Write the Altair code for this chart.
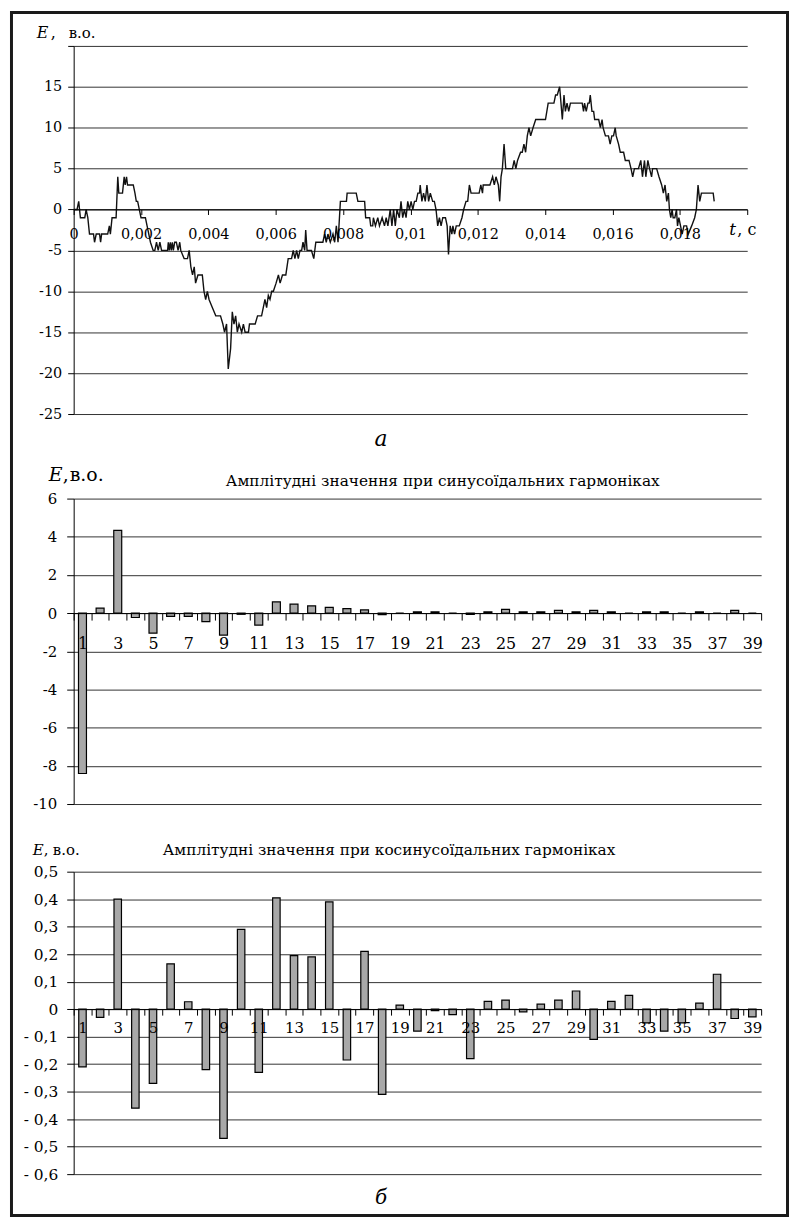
import altair as alt
import pandas as pd

# ---------------- data: panel a (time signal) ----------------
T_A = [0, 0.0001, 0.00015, 0.0002, 0.00033, 0.00037, 0.00042, 0.00047, 0.00059, 0.00062,
       0.00067, 0.00077, 0.0008, 0.00083, 0.00101, 0.00106, 0.00109, 0.00114, 0.00126, 0.00131,
       0.00134, 0.00145, 0.0015, 0.00153, 0.00157, 0.0016, 0.00177, 0.00182, 0.00186, 0.0019,
       0.00195, 0.002, 0.00213, 0.00218, 0.00228, 0.00236, 0.00241, 0.00246, 0.00251, 0.00256,
       0.00261, 0.00279, 0.00281, 0.00284, 0.00287, 0.0029, 0.00293, 0.00296, 0.003, 0.00305,
       0.0031, 0.00315, 0.00318, 0.00328, 0.00338, 0.00343, 0.00348, 0.00353, 0.00358, 0.00362,
       0.00369, 0.00382, 0.00387, 0.00392, 0.00397, 0.00402, 0.00412, 0.00422, 0.00436, 0.00443,
       0.00448, 0.00454, 0.00459, 0.00466, 0.00471, 0.00476, 0.00481, 0.00486, 0.00491, 0.00499]
E_A = [0, 0, 1, -1, -1, 0, -1, -3, -3, -4,
       -3, -3, -4, -3, -3, -2, -3, -1, -1, 4,
       2, 2, 4, 3, 4, 3, 3, 2, 1, 1,
       0, -1, -1, -2, -4, -5, -5, -4, -5, -4,
       -5, -5, -4, -5, -4, -5, -4, -5, -4, -4,
       -5, -4, -5, -6, -6, -5, -7, -8, -7, -9,
       -8, -8, -10, -11, -10, -11, -12, -13, -13, -14,
       -15, -14, -19.5, -17, -12.5, -14, -13, -15, -14, -15]

T_B = [0.00504, 0.00509, 0.00519, 0.00522, 0.00539, 0.00546, 0.00558, 0.00563, 0.00568, 0.00573,
       0.00578, 0.00583, 0.00588, 0.00593, 0.00601, 0.00608, 0.00613, 0.0062, 0.0063, 0.00637,
       0.00647, 0.00652, 0.00657, 0.00662, 0.00667, 0.00672, 0.00677, 0.00681, 0.00686, 0.00689,
       0.00693, 0.00699, 0.00706, 0.00713, 0.00719, 0.0074, 0.00745, 0.0075, 0.00755, 0.00762,
       0.0077, 0.00775, 0.0078, 0.00785, 0.00792, 0.0081, 0.00812, 0.00839, 0.00844, 0.00864,
       0.00867, 0.00879, 0.00882, 0.00888, 0.0089, 0.00896, 0.00903, 0.00908, 0.00916, 0.00923,
       0.00928, 0.00933, 0.0094, 0.00945, 0.0095, 0.00955, 0.0096, 0.00967, 0.00972, 0.00977,
       0.00982, 0.00987, 0.00992, 0.00997]
E_B = [-14, -15, -15, -14, -14, -13, -13, -12, -11, -12,
       -10.5, -11, -10, -10, -9, -8, -9, -8, -8, -6,
       -6, -5, -6, -5, -6, -5, -5, -4, -5, -2.5,
       -5, -5, -5, -6, -4, -4, -3, -4, -3, -4,
       -3, -4, -2, -4, 1, 1, 2, 2, 1, 1,
       -1, -1, -2, -2, -1, -2, -1, -2, -1, -2,
       -1, -2, 0, -2, 0, -2, 0, -1, 1, -1,
       0, -1, 1, 0]

T_C = [0.01002, 0.01007, 0.01012, 0.01017, 0.01022, 0.01027, 0.01029, 0.01034, 0.01039, 0.01044,
       0.01049, 0.01054, 0.01059, 0.01066, 0.01071, 0.01076, 0.01081, 0.01086, 0.01091, 0.01096,
       0.01104, 0.01109, 0.01113, 0.01118, 0.01123, 0.01126, 0.01131, 0.01136, 0.01145, 0.01153,
       0.01158, 0.01165, 0.0117, 0.01175, 0.0118, 0.01204, 0.01209, 0.01214, 0.01216, 0.01236,
       0.01244, 0.01249, 0.01254, 0.01261, 0.01265, 0.01269, 0.01273, 0.01278, 0.01283, 0.01303,
       0.01308, 0.01313, 0.01318, 0.01327, 0.01332, 0.01337, 0.01342, 0.01347, 0.01352, 0.01357,
       0.01364, 0.01372, 0.01401, 0.01409, 0.01426, 0.01431, 0.01436, 0.01443, 0.01451, 0.01456,
       0.0146, 0.01465, 0.0147, 0.01475, 0.01495]
E_C = [1, 0, 1, 1, 2, 2, 3, 1, 2, 1,
       3, 1, 2, 1, 1, 0, -2, -1, -2, -1,
       -1, -2, -5.5, -2, -3, -2, -3, -2, -2, -1,
       0, 1, 1, 3, 2, 2, 3, 2, 3, 3,
       4, 3, 4, 3, 1, 4, 5, 8, 5, 5,
       6, 5, 6, 7, 7, 8, 7, 9, 10, 9,
       10, 11, 11, 13, 13, 14, 14, 15, 11, 14,
       12, 13, 12, 13, 13]

T_D = [0.015, 0.0151, 0.01514, 0.01517, 0.01522, 0.01527, 0.01531, 0.01534, 0.01539, 0.01544,
       0.01547, 0.01554, 0.01559, 0.01564, 0.01569, 0.01572, 0.01579, 0.01583, 0.01588, 0.01593,
       0.01598, 0.01603, 0.01608, 0.01611, 0.01618, 0.01623, 0.01633, 0.01638, 0.01649, 0.01655,
       0.0166, 0.01665, 0.01677, 0.01684, 0.01689, 0.01695, 0.01699, 0.01705, 0.0171, 0.01716,
       0.01719, 0.01731, 0.01738, 0.01746, 0.01751, 0.01756, 0.01761, 0.01766, 0.01769, 0.01773,
       0.01777, 0.0178, 0.01785, 0.0179, 0.01793, 0.01797, 0.01802, 0.01807, 0.01812, 0.0182,
       0.01825, 0.01835, 0.01844, 0.01849, 0.01854, 0.01859, 0.01864, 0.01874, 0.01899, 0.01902]
E_D = [13, 13, 12, 13, 12, 13, 13, 14, 12, 12,
       11, 11, 11, 10, 11, 10, 9, 9, 9, 8,
       9, 9, 10, 9, 8, 7, 7, 6, 6, 5,
       4, 5, 5, 6, 4, 6, 4, 6, 5, 4,
       5, 5, 4, 3, 2, 3, 1, 2, 0, -1,
       0, -1, -1, 0, -2, -1, -2, -3, -2, -2,
       -3, -2, -1, 0, 3, 1, 2, 2, 2, 1]

T_TICKS = [0, 0.002, 0.004, 0.006, 0.008, 0.01, 0.012, 0.014, 0.016, 0.018, 0.02]
E_TICKS = [-25, -20, -15, -10, -5, 0, 5, 10, 15, 20]

# ---------------- data: panel b (harmonics) ----------------
HARM = list(range(1, 40))
SIN_AMP = [-8.4, 0.26, 4.33, -0.23, -1.05, -0.17, -0.17, -0.45, -1.15, -0.06,
           -0.63, 0.59, 0.47, 0.38, 0.3, 0.24, 0.17, -0.08, 0, 0.07,
           0.07, 0, -0.07, 0.07, 0.2, 0.07, 0.07, 0.14, 0.07, 0.14,
           0.07, 0, 0.07, 0.07, 0, 0.07, 0, 0.14, 0]
COS_AMP = [-0.21, -0.03, 0.4, -0.36, -0.27, 0.165, 0.027, -0.22, -0.47, 0.29,
           -0.23, 0.405, 0.195, 0.19, 0.39, -0.185, 0.21, -0.31, 0.015, -0.08,
           -0.005, -0.02, -0.18, 0.028, 0.033, -0.01, 0.018, 0.033, 0.066, -0.11,
           0.028, 0.05, -0.05, -0.08, -0.05, 0.022, 0.127, -0.034, -0.028]
SIN_TICKS = [-10, -8, -6, -4, -2, 0, 2, 4, 6]
COS_TICKS = [-0.6, -0.5, -0.4, -0.3, -0.2, -0.1, 0, 0.1, 0.2, 0.3, 0.4, 0.5]

SIN_TITLE = "Амплітудні значення при синусоїдальних гармоніках"
COS_TITLE = "Амплітудні значення при косинусоїдальних гармоніках"

# ---------------- style ----------------
FONT = "DejaVu Serif"
GRID = "#333333"
BAR_FILL = "#a8a8a8"

W_TOP, H_TOP, H_TOP_BOX = 677, 370, 387
W_BAR = 691
H_SIN, H_COS = 307, 304

line_df = pd.DataFrame({"t": T_A + T_B + T_C + T_D, "E": E_A + E_B + E_C + E_D})
bars_df = pd.DataFrame({"n": HARM, "s": SIN_AMP, "c": COS_AMP})
one = pd.DataFrame({"k": [0]})


def label(text, x, y, size, italic=False, align="left"):
    return alt.Chart(one).mark_text(
        text=text, font=FONT, fontSize=size,
        fontStyle="italic" if italic else "normal",
        align=align, baseline="alphabetic", color="black",
    ).encode(x=alt.value(x), y=alt.value(y))


# ---------------- panel a ----------------
zero_top = H_TOP * 20 / 45
line = alt.Chart(line_df).mark_line(color="#111111", strokeWidth=1.4).encode(
    x=alt.X("t:Q", scale=alt.Scale(domain=[0, 0.02], nice=False, zero=False),
            axis=alt.Axis(values=T_TICKS, title=None, grid=False, zindex=1,
                          labelExpr="datum.value > 0.0199 ? '' : replace(format(datum.value, '~g'), '.', ',')",
                          offset=-(H_TOP_BOX - zero_top), tickSize=5, labelPadding=13,
                          labelFontSize=14.5, labelFlush=False, labelOverlap=False)),
    y=alt.Y("E:Q", scale=alt.Scale(domain=[-25, 20], nice=False, zero=False, range=[H_TOP, 0]),
            axis=alt.Axis(values=E_TICKS, title=None, grid=True,
                          labelExpr="datum.value > 19 ? '' : toString(datum.value)",
                          tickSize=6, labelPadding=6, labelFontSize=14.5, labelOverlap=False)),
)
border = alt.Chart(one).mark_rect(fill="transparent", stroke="#1a1a1a", strokeWidth=3).encode(
    x=alt.value(-62.5), x2=alt.value(717.5), y=alt.value(-33.5), y2=alt.value(1175.5)
)
top = alt.layer(
    line, border,
    label("E", -37, -8, 16, italic=True),
    label(",", -23, -8, 16),
    label("в.о.", -5, -8, 15),
    label("t", 659, 190, 17, italic=True),
    label(", с", 667, 190, 16),
    label("a", 309, 402, 22, italic=True, align="center"),
).properties(width=W_TOP, height=H_TOP_BOX)

# ---------------- panel b: sine ----------------
sin_bars = alt.Chart(bars_df).mark_bar(size=8, fill=BAR_FILL, stroke="black", strokeWidth=1.2).encode(
    x=alt.X("n:O", scale=alt.Scale(paddingInner=0, paddingOuter=0),
            axis=alt.Axis(title=None, labelAngle=0, tickBand="extent", grid=False, zindex=1,
                          labelExpr="datum.value % 2 == 1 ? datum.label : ''",
                          offset=-(H_SIN - H_SIN * 6 / 16), tickSize=7, labelPadding=16,
                          labelFontSize=16, labelOverlap=False)),
    y=alt.Y("s:Q", scale=alt.Scale(domain=[-10, 6], nice=False),
            axis=alt.Axis(values=SIN_TICKS, title=None, grid=True, labelExpr="toString(datum.value)",
                          tickSize=7, labelPadding=10, labelFontSize=15, labelOverlap=False)),
)
sine = alt.layer(
    sin_bars,
    label("E", -25, -18, 19, italic=True),
    label(",", -11, -18, 19),
    label("в.о.", -4, -18, 19),
    label(SIN_TITLE, 371, -13, 15.4, align="center"),
).properties(width=W_BAR, height=H_SIN)

# ---------------- panel b: cosine ----------------
cos_bars = alt.Chart(bars_df).mark_bar(size=7.5, fill=BAR_FILL, stroke="black", strokeWidth=1.2).encode(
    x=alt.X("n:O", scale=alt.Scale(paddingInner=0, paddingOuter=0),
            axis=alt.Axis(title=None, labelAngle=0, tickBand="extent", grid=False, zindex=1,
                          labelExpr="datum.value % 2 == 1 ? datum.label : ''",
                          offset=-(H_COS - H_COS * 0.5 / 1.1), tickSize=6, labelPadding=5,
                          labelFontSize=15, labelOverlap=False)),
    y=alt.Y("c:Q", scale=alt.Scale(domain=[-0.6, 0.5], nice=False),
            axis=alt.Axis(values=COS_TICKS, title=None, grid=True,
                          labelExpr="datum.value == 0 ? '0' : (datum.value < 0 ? '- ' : '') + replace(format(abs(datum.value), '.1f'), '.', ',')",
                          tickSize=7, labelPadding=9, labelFontSize=15.5, labelOverlap=False)),
)
cos = alt.layer(
    cos_bars,
    label("E", -41, -17, 15, italic=True),
    label(",", -30, -17, 15),
    label("в.о.", -21, -17, 15),
    label(COS_TITLE, 317, -17, 15.4, align="center"),
    label("б", 309, 334, 20, italic=True, align="center"),
).properties(width=W_BAR, height=H_COS)

chart = alt.vconcat(top, sine, cos, spacing=68, bounds="flush").properties(
    padding={"left": 2, "top": 0, "right": 0, "bottom": 0}
).configure_view(strokeWidth=0).configure_axis(
    labelFont=FONT, labelColor="black", domainColor="black", tickColor="black",
    gridColor=GRID, gridWidth=1, domainWidth=1, tickWidth=1,
)

chart.save("out.html", embed_options={"renderer": "svg", "actions": False})
